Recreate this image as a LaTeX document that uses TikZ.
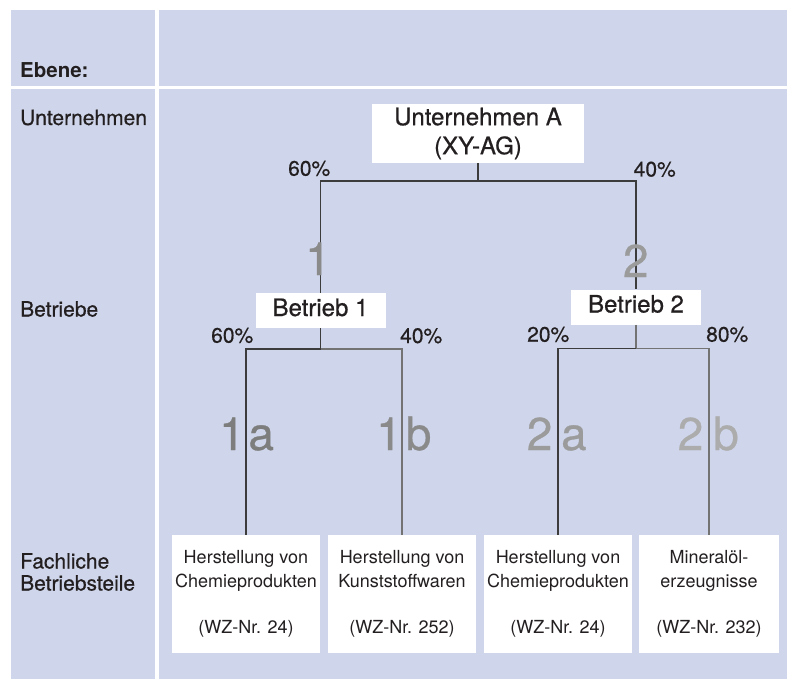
\documentclass[tikz,border=0pt]{standalone}
\usepackage{fontspec}
\setmainfont{TeX Gyre Heros}
\newfontfamily\medfont[FakeBold=0.6]{TeX Gyre Heros}
\begin{document}
\begin{tikzpicture}[x=1pt, y=-1pt,
    lab/.style={anchor=base west, inner sep=0pt, text=ink, font=\medfont\fontsize{21}{22}\selectfont},
    pct/.style={anchor=base west, inner sep=0pt, text=ink, font=\medfont\fontsize{21}{22}\selectfont},
    head/.style={fill=white, inner sep=0pt, text=ink, align=center, font=\medfont\fontsize{24}{29}\selectfont},
    unit/.style={fill=white, inner sep=0pt, text=ink, align=center, minimum height=118.5pt, font=\fontsize{18}{23.4}\selectfont},
    big/.style={anchor=base, inner sep=0pt, font=\medfont\fontsize{46}{46}\selectfont},
    link/.style={draw=lineDark, line width=1.1pt},
    linklight/.style={draw=lineLight, line width=1.1pt}]
    % Define colors
    \definecolor{panel}{RGB}{207,214,235}
    \definecolor{ink}{RGB}{35,31,32}
    \definecolor{lineDark}{RGB}{60,60,60}
    \definecolor{lineLight}{RGB}{115,115,115}
    \definecolor{digA}{RGB}{125,125,125}
    \definecolor{digB}{RGB}{138,138,138}
    \definecolor{digC}{RGB}{155,155,155}
    \definecolor{digD}{RGB}{172,172,172}

    % Background
    \useasboundingbox (0,0) rectangle (787,679);
    \fill[white] (0,0) rectangle (787,679);
    \fill[panel] (11,10) rectangle (787,679);
    \draw[white, line width=4pt] (157,10) -- (157,679);
    \draw[white, line width=2.5pt] (11,87.7) -- (787,87.7);

    % Levels
    \node[lab, font=\bfseries\fontsize{20.5}{22}\selectfont] (ebene) at (20,77.3) {Ebene:};
    \node[lab] (lvl1) at (20,125) {Unternehmen};
    \node[lab] (lvl2) at (20,316.5) {Betriebe};
    \node[lab, anchor=north west, align=left] (lvl3) at (20,553) {Fachliche\\Betriebsteile};

    % Company and plants
    \node[head, minimum width=212pt, minimum height=59pt] (firm) at (478,133.5) {Unternehmen A\\(XY-AG)};
    \node[head, minimum width=130pt, minimum height=35pt, text height=17pt, text depth=6pt] (b1) at (320.5,310.5) {Betrieb 1};
    \node[head, minimum width=130pt, minimum height=35pt, text height=17pt, text depth=6pt] (b2) at (636,307) {Betrieb 2};

    % Plant units
    \foreach \name/\x/\w/\txt in {
        p1/246/148/{Herstellung von\\Chemieprodukten\\[23.4pt](WZ-Nr. 24)},
        p2/402/148/{Herstellung von\\Kunststoffwaren\\[23.4pt](WZ-Nr. 252)},
        p3/558/148/{Herstellung von\\Chemieprodukten\\[23.4pt](WZ-Nr. 24)},
        p4/709/140/{Mineralöl-\\erzeugnisse\\[23.4pt](WZ-Nr. 232)}} {
        \node[unit, minimum width=\w pt] (\name) at (\x,594.2) {\txt};
    }

    % Shares
    \coordinate (fork0) at (478,181);
    \coordinate (fork1) at (320.5,349);
    \coordinate (fork2) at (636,348.7);
    \draw[link] (firm.south) -- (fork0);
    \draw[link] (b1.north) |- (fork0) -| (b2.north);
    \draw[link] (b1.south) -- (fork1);
    \draw[link] (p1.north) |- (fork1);
    \draw[linklight] (fork1) -| (p2.north);
    \draw[linklight] (b2.south) -- (fork2);
    \draw[link] (p3.north) |- (fork2);
    \draw[linklight] (fork2) -| (p4.north);

    \foreach \name/\x/\y/\t in {q1/288/175.7/60, q2/633.5/176.5/40, q1a/211/342.7/60,
        q1b/400/343/40, q2a/527/341.7/20, q2b/706/341.7/80} {
        \node[pct] (\name) at (\x,\y) {\t\%};
    }

    % Big numbers
    \foreach \name/\x/\y/\c/\t in {d1/318/275/digB/1, d2/635.7/277/digC/2,
        d1a/232/450/digA/1, l1a/261.2/450/digA/a, d1b/389/450/digB/1, l1b/418.6/450/digB/b,
        d2a/539.6/450/digC/2, l2a/573.9/450/digC/a, d2b/690.5/450/digD/2, l2b/726/450/digD/b} {
        \node[big, text=\c] (\name) at (\x,\y) {\t};
    }
\end{tikzpicture}
\end{document}
